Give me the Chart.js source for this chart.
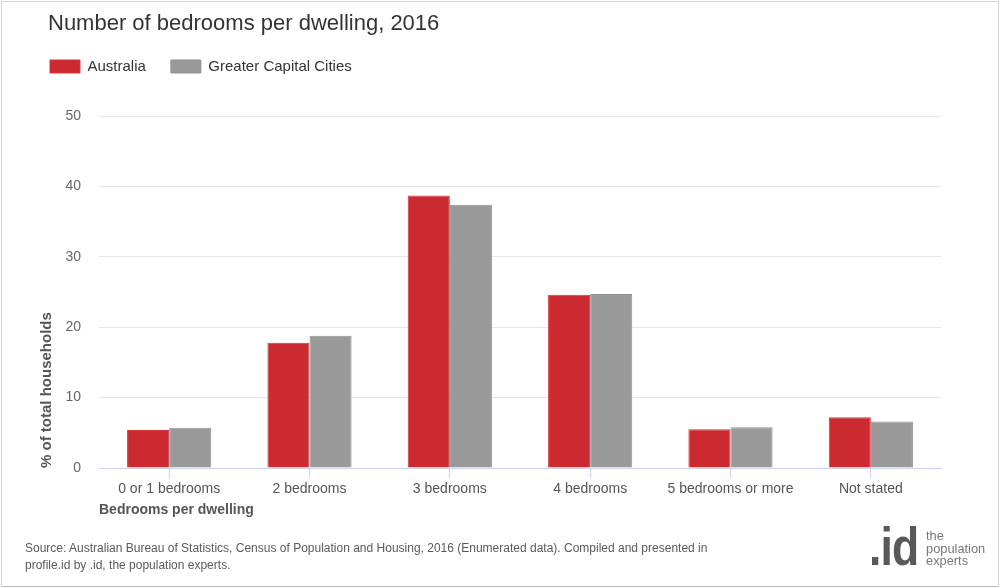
<!DOCTYPE html>
<html>
<head>
<meta charset="utf-8">
<script src="https://cdn.jsdelivr.net/npm/chart.js@4.4.0/dist/chart.umd.min.js"></script>
<style>
    html, body { margin: 0; padding: 0; background: #fff; }
    #wrap { position: relative; width: 1000px; height: 588px; overflow: hidden; font-family: "Liberation Sans", Arial, sans-serif; }
    #frame { position: absolute; left: 1px; top: 1px; right: 1px; bottom: 1px; border: 1px solid #d6d6d6; border-bottom-color: #bdbdbd; pointer-events: none; }
    #chartTitle { position: absolute; left: 48px; top: 10px; font-size: 22px; color: #333; white-space: nowrap; }
    canvas { position: absolute; left: 0; top: 0; }
    #source { position: absolute; left: 25px; top: 540px; font-size: 12px; line-height: 17px; color: #5a5a5a; }
    #logoId { position: absolute; left: 869px; top: 517px; font-size: 53px; line-height: 60px; font-weight: bold; color: #595959; letter-spacing: -1px; transform: scaleX(0.84); transform-origin: left top; }
    #logoText { position: absolute; left: 926px; top: 530px; font-size: 13.5px; line-height: 12.5px; color: #777; transform: scaleX(0.95); transform-origin: left top; }
</style>
</head>
<body>
<div id="wrap">
    <canvas id="bedroomsChart" width="1000" height="588"></canvas>
    <div id="chartTitle">Number of bedrooms per dwelling, 2016</div>
    <div id="source">Source: Australian Bureau of Statistics, Census of Population and Housing, 2016 (Enumerated data). Compiled and presented in<br>profile.id by .id, the population experts.</div>
    <div id="logoId">.id</div>
    <div id="logoText">the<br>population<br>experts</div>
    <div id="frame"></div>
</div>
<script>
const categories = ['0 or 1 bedrooms', '2 bedrooms', '3 bedrooms', '4 bedrooms', '5 bedrooms or more', 'Not stated'];
const australia = [5.4, 17.8, 38.7, 24.6, 5.5, 7.2];
const capitalCities = [5.7, 18.8, 37.4, 24.7, 5.8, 6.6];
const yTicks = [0, 10, 20, 30, 40, 50];

document.addEventListener('DOMContentLoaded', function () {
    // push the plot down a bit below the legend
    const legendSpacer = {
        id: 'legendSpacer',
        beforeInit(chart) {
            const fit = chart.legend.fit;
            chart.legend.fit = function () {
                fit.bind(chart.legend)();
                this.height += 32;
            };
        }
    };

    const ctx = document.getElementById('bedroomsChart').getContext('2d');
    new Chart(ctx, {
        type: 'bar',
        data: {
            labels: categories,
            datasets: [{
                label: 'Australia',
                data: australia,
                backgroundColor: '#cc2a31',
                borderColor: '#d3343b',
                borderWidth: 1
            }, {
                label: 'Greater Capital Cities',
                data: capitalCities,
                backgroundColor: '#999999',
                borderColor: '#919191',
                borderWidth: 1
            }]
        },
        plugins: [legendSpacer],
        options: {
            responsive: false,
            animation: false,
            layout: { padding: { left: 25, right: 59, top: 34, bottom: 60 } },
            datasets: { bar: { barPercentage: 1, categoryPercentage: 0.6 } },
            plugins: {
                tooltip: { enabled: false },
                title: { display: false },
                legend: {
                    position: 'top',
                    align: 'start',
                    labels: {
                        boxWidth: 30,
                        boxHeight: 13,
                        padding: 25,
                        color: '#333',
                        font: { family: '"Liberation Sans", Arial, sans-serif', size: 15 }
                    }
                }
            },
            scales: {
                x: {
                    grid: { display: true, drawOnChartArea: false, drawTicks: true, tickLength: 10, offset: false, color: '#ccd6eb' },
                    border: { color: '#ccd6eb', width: 1 },
                    ticks: { color: '#555', padding: 3, maxRotation: 0, font: { family: '"Liberation Sans", Arial, sans-serif', size: 14 } },
                    title: {
                        display: true,
                        text: 'Bedrooms per dwelling',
                        align: 'start',
                        color: '#555',
                        padding: { top: 4, bottom: 9 },
                        font: { family: '"Liberation Sans", Arial, sans-serif', size: 14, weight: 'bold' }
                    },
                    afterFit: function (scale) { scale.height = 60; }
                },
                y: {
                    min: 0,
                    max: 50,
                    afterBuildTicks: function (scale) { scale.ticks = yTicks.map(v => ({ value: v })); },
                    grid: { color: '#e6e6e6', drawTicks: false },
                    border: { display: false },
                    ticks: { color: '#666', padding: 18, font: { family: '"Liberation Sans", Arial, sans-serif', size: 14 } },
                    title: {
                        display: true,
                        text: '% of total households',
                        align: 'start',
                        color: '#555',
                        padding: { top: 13, bottom: 0 },
                        font: { family: '"Liberation Sans", Arial, sans-serif', size: 15, weight: 'bold' }
                    },
                    afterFit: function (scale) { scale.width = 74; }
                }
            }
        }
    });
});
</script>
</body>
</html>
